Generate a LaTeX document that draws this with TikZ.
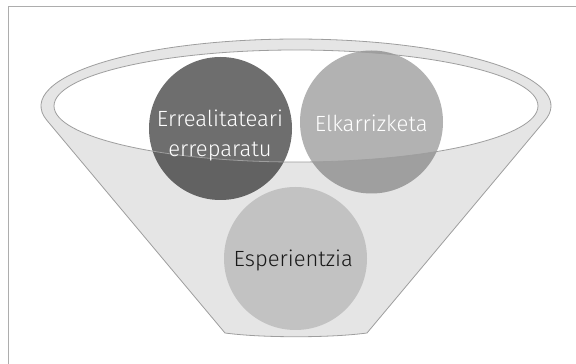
\documentclass[tikz,border=0pt]{standalone}
\usepackage{fontspec}
\setmainfont{Fira Sans}[UprightFont={* Light}]
\begin{document}
\begin{tikzpicture}[x=1pt,y=1pt,
  outline/.style={draw=black!38, line width=0.8pt},
  ball/.style={circle, minimum size=143pt, inner sep=0pt, draw=none},
  lbl/.style={font=\fontsize{22}{30}\selectfont, align=center, inner sep=0pt}
]
\useasboundingbox (0,0) rectangle (576,364);
% frame
\coordinate (fa) at (8,0);
\coordinate (fb) at (8,357);
\coordinate (fc) at (576,357);
\draw[draw=black!32, line width=1pt] (fa) -- (fb) -- (fc);
% funnel body and rim
\def\funnel{(545,243.6) arc[start angle=-12.4, end angle=192.4, x radius=255, y radius=67]
  -- (225,31) .. controls (262,26) and (330,26) .. (367,31) -- cycle}
\def\inner{(296,258) ellipse[x radius=242, y radius=56]}
\fill[black!10] \funnel;
\fill[white] \inner;
% circles
\node[ball, fill=black!57] (c1) at (220.5,235.5) {};
\node[ball, fill=black!30] (c2) at (371.5,242) {};
\node[ball, fill=black!15] (c3) at (295.5,105.5) {};
% front of the funnel over the circles
\begin{scope}
  \clip (c1.center) circle[radius=71.5] (c2.center) circle[radius=71.5] (c3.center) circle[radius=71.5];
  \fill[black, opacity=0.1, even odd rule] \funnel \inner;
\end{scope}
% outlines
\draw[outline] \funnel;
\draw[outline] \inner;
% labels
\node[lbl, text=white, anchor=center] (t1) at (220,229) {Errealitateari\\erreparatu};
\node[lbl, text=white, anchor=base] (t2) at (371.3,232.3) {Elkarrizketa};
\node[lbl, text=black!90, anchor=base] (t3) at (293.3,97.3) {Esperientzia};
\end{tikzpicture}
\end{document}
